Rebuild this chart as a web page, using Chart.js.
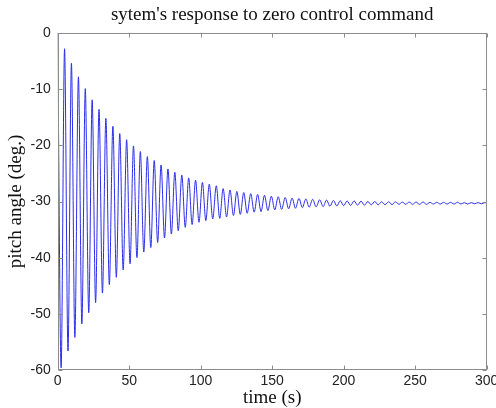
<!DOCTYPE html>
<html><head><meta charset="utf-8">
<script src="https://cdn.jsdelivr.net/npm/chart.js@4"></script>
<style>html,body{margin:0;padding:0;background:#fff}#wrap{width:496px;height:408px}</style>
</head><body><div id="wrap"><canvas id="c" width="496" height="408"></canvas></div>
<script>
const titleText = "sytem's response to zero control command";
const xLabel = 'time (s)';
const yLabel = 'pitch angle (deg.)';
const xTicks = [0, 50, 100, 150, 200, 250, 300];
const yTicks = [0, -10, -20, -30, -40, -50, -60];

const timeS = [0, 2.4, 4.8, 7.2, 9.6, 12.0, 14.5, 16.9, 19.3, 21.7, 24.1, 26.5, 28.9, 31.3, 33.7, 36.1, 38.6, 41.0, 43.4, 45.8, 48.2, 50.6, 53.0, 55.4, 57.8, 60.2, 62.7, 65.1, 67.5, 69.9, 72.3, 74.7, 77.1, 79.5, 81.9, 84.3, 86.8, 89.2, 91.6, 94.0, 96.4, 98.8, 101.2, 103.6, 106.0, 108.4, 110.9, 113.3, 115.7, 118.1, 120.5, 122.9, 125.3, 127.7, 130.1, 132.5, 135.0, 137.4, 139.8, 142.2, 144.6, 147.0, 149.4, 151.8, 154.2, 156.6, 159.1, 161.5, 163.9, 166.3, 168.7, 171.1, 173.5, 175.9, 178.3, 180.7, 183.2, 185.6, 188.0, 190.4, 192.8, 195.2, 197.6, 200.0, 202.4, 204.8, 207.3, 209.7, 212.1, 214.5, 216.9, 219.3, 221.7, 224.1, 226.5, 228.9, 231.4, 233.8, 236.2, 238.6, 241.0, 243.4, 245.8, 248.2, 250.6, 253.0, 255.5, 257.9, 260.3, 262.7, 265.1, 267.5, 269.9, 272.3, 274.7, 277.1, 279.6, 282.0, 284.4, 286.8, 289.2, 291.6, 294.0, 296.4, 298.8, 300];

// pitch angle (deg.) at those times
const pitchDeg = [0, -59.6, -2.8, -56.6, -5.4, -54.2, -7.8, -51.8, -9.9, -49.8, -11.9, -48.0, -13.6, -46.3, -15.2, -44.8, -16.6, -43.5, -17.9, -42.2, -19.0, -41.1, -20.1, -40.0, -21.1, -39.0, -22.0, -38.2, -22.7, -37.3, -23.5, -36.5, -24.2, -35.8, -24.8, -35.2, -25.3, -34.6, -25.8, -34.1, -26.2, -33.7, -26.6, -33.4, -26.9, -33.1, -27.2, -33.0, -27.7, -32.75, -27.95, -32.5, -28.2, -32.3, -28.4, -32.1, -28.6, -31.9, -28.75, -31.8, -28.9, -31.6, -29.05, -31.5, -29.15, -31.4, -29.3, -31.3, -29.4, -31.2, -29.45, -31.1, -29.55, -31.0, -29.6, -30.95, -29.7, -30.9, -29.75, -30.85, -29.8, -30.8, -29.85, -30.75, -29.9, -30.7, -29.9, -30.65, -29.95, -30.65, -30.0, -30.6, -30.0, -30.6, -30.05, -30.55, -30.05, -30.55, -30.05, -30.5, -30.1, -30.5, -30.1, -30.5, -30.1, -30.5, -30.1, -30.5, -30.15, -30.45, -30.15, -30.45, -30.15, -30.45, -30.15, -30.45, -30.15, -30.45, -30.2, -30.45, -30.2, -30.4, -30.2, -30.4, -30.2, -30.3];

const frameColor = '#8c8c8c';
const framePlugin = {
  id: 'frame',
  afterDraw(chart) {
    const {ctx, chartArea: a, scales} = chart;
    const x = scales.x, y = scales.y;
    ctx.save();
    ctx.strokeStyle = frameColor;
    ctx.lineWidth = 1;
    const L = Math.round(a.left) + 0.5, R = Math.round(a.right) - 0.5;
    const T = Math.round(a.top) + 0.5, B = Math.round(a.bottom) - 0.5;
    ctx.strokeRect(L, T, R - L, B - T);
    const tl = 4;
    ctx.beginPath();
    xTicks.forEach(v => {
      const px = Math.round(x.getPixelForValue(v)) + 0.5;
      ctx.moveTo(px, B); ctx.lineTo(px, B - tl);
      ctx.moveTo(px, T); ctx.lineTo(px, T + tl);
    });
    yTicks.forEach(v => {
      const py = Math.round(y.getPixelForValue(v)) + 0.5;
      ctx.moveTo(L, py); ctx.lineTo(L + tl, py);
      ctx.moveTo(R, py); ctx.lineTo(R - tl, py);
    });
    ctx.stroke();
    ctx.fillStyle = '#111';
    ctx.font = '19px "Liberation Serif", "Times New Roman", serif';
    ctx.textAlign = 'center';
    ctx.textBaseline = 'alphabetic';
    const cx = (a.left + a.right) / 2;
    ctx.fillText(titleText, cx, 20);
    ctx.fillText(xLabel, cx, 403);
    ctx.translate(21, (a.top + a.bottom) / 2);
    ctx.rotate(-Math.PI / 2);
    ctx.fillText(yLabel, 0, 0);
    ctx.restore();
  }
};

const pts = timeS.map((t, i) => ({x: t, y: pitchDeg[i]}));

new Chart(document.getElementById('c'), {
  type: 'line',
  data: { datasets: [{
    data: pts,
    borderColor: 'rgb(45,45,235)',
    borderWidth: 1,
    pointRadius: 0,
    fill: false,
    cubicInterpolationMode: 'monotone'
  }]},
  options: {
    responsive: false,
    animation: false,
    events: [],
    layout: { padding: { top: 33, right: 9.3, left: 0, bottom: 0 } },
    plugins: { legend: { display: false }, tooltip: { enabled: false }, title: { display: false } },
    scales: {
      x: {
        type: 'linear', min: 0, max: 300,
        afterBuildTicks: s => { s.ticks = xTicks.map(v => ({value: v})); },
        afterFit: s => { s.height = 38; s.paddingLeft = 0; s.paddingRight = 0; },
        grid: { display: false, drawTicks: false },
        border: { display: false },
        ticks: { padding: 3, color: '#222', font: { family: '"Liberation Sans", Arial, sans-serif', size: 14 }, maxRotation: 0 }
      },
      y: {
        type: 'linear', min: -60, max: 0,
        afterBuildTicks: s => { s.ticks = yTicks.map(v => ({value: v})); },
        afterFit: s => { s.width = 57.7; },
        grid: { display: false, drawTicks: false },
        border: { display: false },
        ticks: { padding: 7, color: '#222', font: { family: '"Liberation Sans", Arial, sans-serif', size: 14 } }
      }
    }
  },
  plugins: [framePlugin]
});
</script>
</body></html>
